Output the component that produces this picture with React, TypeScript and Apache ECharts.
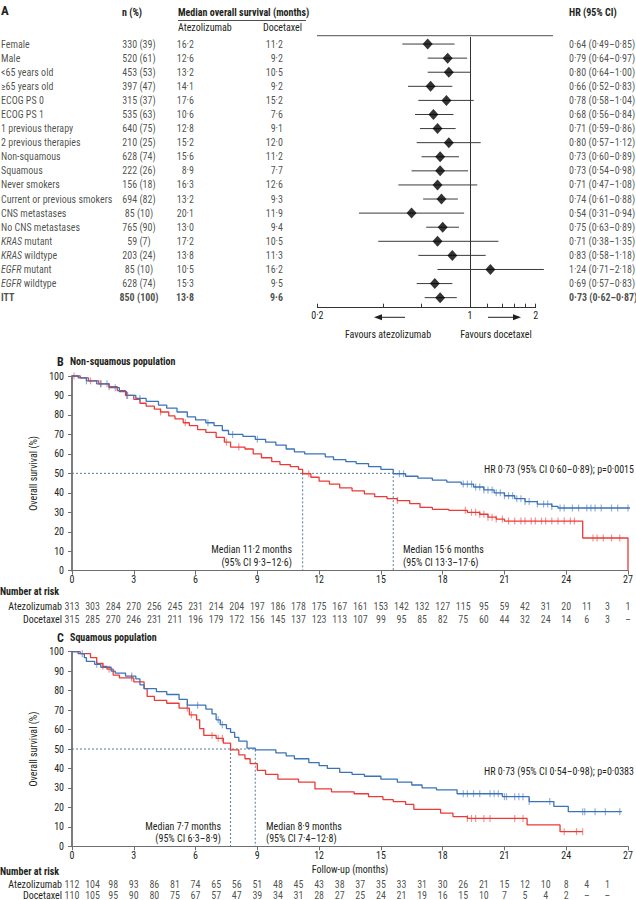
import React, { useEffect, useRef } from 'react';
import * as echarts from 'echarts';

// ---------- Panel A: forest plot data ----------
const subgroups = ['Female', 'Male', '<65 years old', '≥65 years old', 'ECOG PS 0', 'ECOG PS 1', '1 previous therapy', '2 previous therapies', 'Non-squamous', 'Squamous', 'Never smokers', 'Current or previous smokers', 'CNS metastases', 'No CNS metastases', 'KRAS mutant', 'KRAS wildtype', 'EGFR mutant', 'EGFR wildtype', 'ITT'];
const subgroupN = [330, 520, 453, 397, 315, 535, 640, 210, 628, 222, 156, 694, 85, 765, 59, 203, 85, 628, 850];
const subgroupPct = [39, 61, 53, 47, 37, 63, 75, 25, 74, 26, 18, 82, 10, 90, 7, 24, 10, 74, 100];
const atezoMedianOS = [16.2, 12.6, 13.2, 14.1, 17.6, 10.6, 12.8, 15.2, 15.6, 8.9, 16.3, 13.2, 20.1, 13.0, 17.2, 13.8, 10.5, 15.3, 13.8];
const doceMedianOS = [11.2, 9.2, 10.5, 9.2, 15.2, 7.6, 9.1, 12.0, 11.2, 7.7, 12.6, 9.3, 11.9, 9.4, 10.5, 11.3, 16.2, 9.5, 9.6];
const hr = [0.64, 0.79, 0.80, 0.66, 0.78, 0.68, 0.71, 0.80, 0.73, 0.73, 0.71, 0.74, 0.54, 0.75, 0.71, 0.83, 1.24, 0.69, 0.73];
const hrLow = [0.49, 0.64, 0.64, 0.52, 0.58, 0.56, 0.59, 0.57, 0.60, 0.54, 0.47, 0.61, 0.31, 0.63, 0.38, 0.58, 0.71, 0.57, 0.62];
const hrHigh = [0.85, 0.97, 1.00, 0.83, 1.04, 0.84, 0.86, 1.12, 0.89, 0.98, 1.08, 0.88, 0.94, 0.89, 1.35, 1.18, 2.18, 0.83, 0.87];
const forestTicks = [0.2, 0.4, 0.6, 1, 1.2, 1.4, 1.6, 1.8, 2];
const forestTickLabels = [0.2, 1, 2];

// ---------- Panel B: non-squamous KM ----------
const bAtezoSteps = [[0, 100], [0.3, 99], [0.7, 97.5], [1.2, 96], [1.8, 94], [2.3, 92], [2.65, 90], [3.1, 88.5], [3.6, 87], [4.2, 85], [4.6, 83.5], [5.1, 81.5], [5.6, 79], [6.0, 77.5], [6.5, 76], [6.9, 74.5], [7.3, 72], [7.6, 70], [8.3, 69], [8.9, 67.5], [9.4, 66], [9.9, 64.5], [10.4, 62.5], [10.8, 61], [11.3, 60], [12.3, 58.5], [12.7, 57], [13.3, 56], [13.8, 55], [14.4, 53.5], [15.0, 52], [15.6, 49.8], [16.2, 48.5], [16.8, 47.5], [17.5, 46.5], [18.2, 45.5], [18.9, 44.5], [19.5, 43], [20.0, 41.5], [20.5, 40], [21.0, 38.5], [21.5, 37], [22.0, 35.5], [22.6, 34.2], [23.3, 33], [23.6, 32.2], [27.3, 32.2]];
const bDoceSteps = [[0, 100], [0.4, 99], [0.8, 97.5], [1.3, 96], [1.8, 94.5], [2.2, 92.5], [2.6, 90], [3.0, 88], [3.3, 86], [3.6, 84.5], [4.0, 83], [4.3, 81.5], [4.7, 79.5], [5.0, 78], [5.4, 76], [5.7, 74.5], [6.1, 72.5], [6.5, 71], [7.0, 68.5], [7.4, 66], [7.7, 63.5], [8.4, 62.5], [8.8, 60], [9.2, 58], [9.7, 56], [10.1, 54.5], [10.6, 53.5], [11.0, 52], [11.2, 49.8], [11.6, 48], [12.0, 46], [12.5, 44.5], [13.0, 42.5], [13.6, 41], [14.2, 39.5], [14.7, 38], [15.3, 37], [15.8, 36], [16.4, 34.5], [16.9, 32.5], [17.5, 31.5], [18.3, 31], [19.2, 30], [19.8, 29], [20.2, 27.5], [20.6, 26.5], [21.0, 25.5], [24.8, 16.8], [27.0, 0]];
const bAtezoCensor = [0.7, 1.4, 1.7, 2.1, 2.65, 3.3, 6.6, 7.8, 9.0, 15.9, 16.1, 19.0, 19.2, 19.4, 19.6, 19.8, 20.0, 20.2, 20.4, 20.6, 20.8, 21.0, 21.2, 21.4, 21.6, 21.8, 22.0, 22.2, 22.6, 22.9, 23.1, 23.3, 23.7, 23.9, 24.3, 24.6, 25.0, 25.2, 25.4, 25.7, 26.2, 26.5, 27.0, 27.2];
const bDoceCensor = [0.1, 0.9, 1.4, 1.8, 2.7, 4.3, 5.5, 7.5, 8.1, 11.5, 15.8, 19.1, 19.4, 19.6, 19.8, 20.0, 20.2, 20.4, 20.6, 20.9, 21.2, 21.5, 21.8, 22.0, 22.3, 22.5, 22.8, 23.0, 23.3, 23.6, 23.9, 24.2, 24.4, 25.3, 25.5, 25.8, 26.2, 26.6];
const bMedianAtezo = 15.6;
const bMedianAtezoCI = [13.3, 17.6];
const bMedianDoce = 11.2;
const bMedianDoceCI = [9.3, 12.6];
const bHR = [0.73, 0.60, 0.89];
const bP = '0·0015';
const bRiskAtezo = [313, 303, 284, 270, 256, 245, 231, 214, 204, 197, 186, 178, 175, 167, 161, 153, 142, 132, 127, 115, 95, 59, 42, 31, 20, 11, 3, 1];
const bRiskDoce = [315, 285, 270, 246, 231, 211, 196, 179, 172, 156, 145, 137, 123, 113, 107, 99, 95, 85, 82, 75, 60, 44, 32, 24, 14, 6, 3, null];

// ---------- Panel C: squamous KM ----------
const cAtezoSteps = [[0, 100], [0.3, 99], [0.6, 97], [0.7, 95], [1.1, 93.5], [1.4, 92], [1.9, 90], [2.1, 89], [2.6, 87.5], [3.1, 86], [3.3, 83], [3.5, 81], [4.1, 79.5], [4.6, 78], [5.2, 75.5], [5.6, 72.5], [6.5, 70.5], [6.8, 68], [7.0, 65], [7.2, 62.5], [7.5, 60.5], [7.7, 58.5], [7.9, 56], [8.1, 54], [8.5, 50.5], [8.9, 49.5], [9.9, 48], [10.4, 46.5], [10.8, 45], [11.5, 43], [12.0, 41.5], [12.4, 40], [13.0, 38], [13.6, 37], [14.2, 36], [15.0, 34.5], [15.8, 33], [16.5, 31.5], [17.0, 30], [17.7, 29], [18.7, 27], [20.9, 25.5], [22.2, 23], [23.4, 20.5], [24.1, 17.8], [26.7, 17.8]];
const cDoceSteps = [[0, 100], [0.4, 99], [0.9, 97], [1.2, 94], [1.5, 92.5], [1.7, 91], [2.0, 88], [2.3, 86.5], [3.0, 84.5], [3.5, 81], [3.65, 77], [4.0, 75], [4.6, 73.5], [5.2, 71], [5.7, 67.5], [6.05, 65], [6.2, 60.5], [6.4, 57], [7.0, 55.5], [7.35, 53], [7.7, 49.5], [8.1, 47], [8.4, 45], [8.65, 42.5], [9.0, 39], [9.4, 37], [10.0, 34.5], [11.0, 33], [11.8, 29.5], [12.6, 28], [13.7, 27], [14.4, 25.5], [15.1, 24], [15.6, 23], [16.2, 21.5], [16.6, 19], [17.9, 17], [18.5, 15.3], [19.2, 14.3], [22.1, 11], [23.7, 7.5], [24.8, 7.5]];
const cAtezoCensor = [0.5, 1.2, 2.9, 5.6, 6.1, 7.1, 7.3, 19.0, 19.2, 19.5, 19.8, 20.3, 20.5, 20.7, 21.0, 21.1, 21.5, 21.7, 21.9, 22.2, 23.2, 24.8, 24.9, 25.4, 25.9, 26.6];
const cDoceCensor = [1.5, 1.8, 2.9, 5.6, 5.8, 6.8, 7.1, 7.3, 19.2, 19.4, 19.6, 20.0, 20.3, 21.5, 21.9, 23.9, 24.5, 24.8];
const cMedianAtezo = 8.9;
const cMedianAtezoCI = [7.4, 12.8];
const cMedianDoce = 7.7;
const cMedianDoceCI = [6.3, 8.9];
const cHR = [0.73, 0.54, 0.98];
const cP = '0·0383';
const cRiskAtezo = [112, 104, 98, 93, 86, 81, 74, 65, 56, 51, 48, 45, 43, 38, 37, 35, 33, 31, 30, 26, 21, 15, 12, 10, 8, 4, 1];
const cRiskDoce = [110, 105, 95, 90, 80, 75, 67, 57, 47, 39, 34, 31, 28, 27, 25, 24, 21, 19, 16, 15, 10, 7, 5, 4, 2, null, null];
const armNames = ['Atezolizumab', 'Docetaxel'];

// ---------- styling ----------
const FONT = '"Liberation Sans Narrow", "Arial Narrow", "Roboto Condensed", "DejaVu Sans Condensed", sans-serif';
const INK = '#231f20';
const BLUE = '#3b73b9';
const RED = '#ec3b36';
const AXIS = '#6d6e71';
const MEDIAN = '#5b7c93';

const fmt1 = (v: number) => v.toFixed(1).replace('.', '·');
const fmt2 = (v: number) => v.toFixed(2).replace('.', '·');
const L = Math.log10;

function survAt(steps: number[][], t: number) {
  let s = steps[0][1];
  for (const [tt, ss] of steps) {
    if (tt <= t) s = ss; else break;
  }
  return s;
}

function txt(text: string, x: number, y: number, align = 'left', opt: any = {}) {
  return {
    type: 'text', x, y, silent: true,
    style: {
      text, fill: opt.fill || INK, fontFamily: FONT, fontSize: opt.size || 10,
      fontWeight: opt.weight || 'normal', align, verticalAlign: 'middle',
    },
  };
}
function hline(x1: number, y1: number, x2: number, y2: number, w = 0.8) {
  return { type: 'line', silent: true, shape: { x1, y1, x2, y2 }, style: { stroke: INK, lineWidth: w } };
}
function poly(points: number[][]) {
  return { type: 'polygon', silent: true, shape: { points }, style: { fill: INK } };
}

function kmXAxis(gridIndex: number, name?: string) {
  return {
    gridIndex, type: 'value', min: 0, max: 27, interval: 3,
    name: name || '', nameLocation: 'middle', nameGap: 18,
    nameTextStyle: { fontFamily: FONT, fontSize: 10, color: INK },
    axisLine: { show: true, lineStyle: { color: AXIS, width: 1 } },
    axisTick: { show: true, length: 4, lineStyle: { color: AXIS } },
    axisLabel: { margin: 4, fontFamily: FONT, fontSize: 10, color: INK },
    splitLine: { show: false },
  };
}
function kmYAxis(gridIndex: number) {
  return {
    gridIndex, type: 'value', min: 0, max: 100, interval: 10,
    name: 'Overall survival (%)', nameLocation: 'middle', nameGap: 29,
    nameTextStyle: { fontFamily: FONT, fontSize: 10, color: INK },
    axisLine: { show: true, lineStyle: { color: AXIS, width: 1.8 } },
    axisTick: { show: true, length: 4, lineStyle: { color: AXIS } },
    axisLabel: { margin: 8, fontFamily: FONT, fontSize: 10, color: INK },
    splitLine: { show: false },
  };
}
function riskYAxis(gridIndex: number) {
  return {
    gridIndex, type: 'category', data: armNames, inverse: true,
    axisLine: { show: false }, axisTick: { show: false },
    axisLabel: { interval: 0, margin: 10, fontFamily: FONT, fontSize: 10, color: INK },
  };
}

function kmSeries(ax: number, steps: number[][], censor: number[], color: string) {
  return [
    {
      type: 'line', xAxisIndex: ax, yAxisIndex: ax, data: steps, step: 'end', symbol: 'none',
      lineStyle: { color, width: 1.3 }, clip: false, silent: true, z: 3,
    },
    {
      type: 'scatter', xAxisIndex: ax, yAxisIndex: ax, symbol: 'rect', symbolSize: [1.2, 7],
      data: censor.map((t) => [t, survAt(steps, t)]),
      itemStyle: { color, opacity: 0.55 }, silent: true, z: 4,
    },
  ];
}
function medianSeries(ax: number, mA: number, mD: number) {
  const hi = Math.max(mA, mD);
  const lo = Math.min(mA, mD);
  const ls = { color: MEDIAN, width: 1, type: [2, 2] };
  return [
    { type: 'line', xAxisIndex: ax, yAxisIndex: ax, data: [[0, 50], [hi, 50], [hi, 0]], symbol: 'none', lineStyle: ls, silent: true, z: 2 },
    { type: 'line', xAxisIndex: ax, yAxisIndex: ax, data: [[lo, 50], [lo, 0]], symbol: 'none', lineStyle: ls, silent: true, z: 2 },
  ];
}
function riskSeries(ax: number, atezo: (number | null)[], doce: (number | null)[]) {
  const mk = (arr: (number | null)[], row: number) => ({
    type: 'scatter', xAxisIndex: ax, yAxisIndex: ax, symbolSize: 0, silent: true,
    data: arr.map((_, i) => [i, row]),
    label: {
      show: true, position: 'inside', fontFamily: FONT, fontSize: 10, color: INK,
      formatter: (p: any) => (arr[p.dataIndex] === null ? '–' : String(arr[p.dataIndex])),
    },
  });
  return [mk(atezo, 0), mk(doce, 1)];
}

function subgroupLabel(i: number) {
  const s = subgroups[i];
  const m = s.match(/^(KRAS|EGFR) (.*)$/);
  if (m) return `{i|${m[1]}} ${m[2]}`;
  return s;
}

function buildOption() {
  const rich = {
    i: { fontStyle: 'italic', fontFamily: FONT, fontSize: 10, color: INK },
    b: { fontWeight: 'bold', fontFamily: FONT, fontSize: 10, color: INK },
  };
  const last = subgroups.length - 1;
  const tableCols = [
    { x: 1, pos: 'right', text: (i: number) => subgroupLabel(i) },
    { x: 139, pos: 'inside', text: (i: number) => `${subgroupN[i]} (${subgroupPct[i]})` },
    { x: 194, pos: 'left', text: (i: number) => fmt1(atezoMedianOS[i]) },
    { x: 283, pos: 'left', text: (i: number) => fmt1(doceMedianOS[i]) },
    { x: 569, pos: 'right', text: (i: number) => `${fmt2(hr[i])} (${fmt2(hrLow[i])}–${fmt2(hrHigh[i])})` },
  ];
  const tableSeries = tableCols.map((c) => ({
    type: 'scatter', xAxisIndex: 1, yAxisIndex: 1, symbolSize: 0, silent: true,
    data: subgroups.map((_, i) => [c.x, i]),
    label: {
      show: true, position: c.pos, distance: 0, fontFamily: FONT, fontSize: 10, color: INK, rich,
      formatter: (p: any) => {
        const t = c.text(p.dataIndex);
        return p.dataIndex === last ? `{b|${t}}` : t;
      },
    },
  }));

  const graphic = [
    txt('A', 1, 10, 'left', { size: 13, weight: 'bold' }),
    txt('n (%)', 122, 12.7, 'left', { weight: 'bold' }),
    txt('Median overall survival (months)', 178, 12.7, 'left', { weight: 'bold' }),
    hline(178, 20.5, 306, 20.5),
    txt('Atezolizumab', 178, 27.3),
    txt('Docetaxel', 302, 27.3, 'right'),
    txt('HR (95% CI)', 569, 12.7, 'left', { weight: 'bold' }),
    hline(317, 35.7, 553, 35.7),
    hline(377, 317.3, 405, 317.3, 1),
    poly([[374, 317.3], [382, 314.3], [382, 320.3]]),
    txt('Favours atezolizumab', 388, 334, 'center'),
    hline(488, 317.3, 514, 317.3, 1),
    poly([[521, 317.3], [513, 314.3], [513, 320.3]]),
    txt('Favours docetaxel', 496, 334, 'center'),

    txt('B', 57, 361.5, 'left', { size: 12, weight: 'bold' }),
    txt('Non-squamous population', 70, 361.5, 'left', { weight: 'bold' }),
    txt(`Median ${fmt1(bMedianDoce)} months`, 292, 549.5, 'right'),
    txt(`(95% CI ${fmt1(bMedianDoceCI[0])}–${fmt1(bMedianDoceCI[1])})`, 292, 562, 'right'),
    txt(`Median ${fmt1(bMedianAtezo)} months`, 403, 549.5),
    txt(`(95% CI ${fmt1(bMedianAtezoCI[0])}–${fmt1(bMedianAtezoCI[1])})`, 403, 562),
    txt(`HR ${fmt2(bHR[0])} (95% CI ${fmt2(bHR[1])}–${fmt2(bHR[2])}); p=${bP}`, 634, 469, 'right'),
    txt('Number at risk', 0, 591, 'left', { weight: 'bold' }),

    txt('C', 57, 637.5, 'left', { size: 12, weight: 'bold' }),
    txt('Squamous population', 70, 637.5, 'left', { weight: 'bold' }),
    txt(`Median ${fmt1(cMedianDoce)} months`, 221, 826, 'right'),
    txt(`(95% CI ${fmt1(cMedianDoceCI[0])}–${fmt1(cMedianDoceCI[1])})`, 221, 838, 'right'),
    txt(`Median ${fmt1(cMedianAtezo)} months`, 266, 826),
    txt(`(95% CI ${fmt1(cMedianAtezoCI[0])}–${fmt1(cMedianAtezoCI[1])})`, 266, 838),
    txt(`HR ${fmt2(cHR[0])} (95% CI ${fmt2(cHR[1])}–${fmt2(cHR[2])}); p=${cP}`, 634, 771.5, 'right'),
    txt('Number at risk', 0, 871.5, 'left', { weight: 'bold' }),
  ];

  return {
    animation: false,
    backgroundColor: '#ffffff',
    textStyle: { fontFamily: FONT, fontSize: 10, color: INK },
    grid: [
      { left: 317.4, width: 218.3, top: 37, height: 267.7, outerBoundsMode: 'none' },
      { left: 0, width: 636, top: 37, height: 267.7, outerBoundsMode: 'none' },
      { left: 72, width: 556, top: 376, height: 194.7, outerBoundsMode: 'none' },
      { left: 72, width: 556, top: 600.5, height: 25, outerBoundsMode: 'none' },
      { left: 72, width: 556, top: 651.7, height: 194.6, outerBoundsMode: 'none' },
      { left: 72, width: 556, top: 878.5, height: 22, outerBoundsMode: 'none' },
    ],
    xAxis: [
      {
        gridIndex: 0, type: 'value', min: L(0.2), max: L(2), offset: 3,
        axisLine: { show: true, lineStyle: { color: '#333', width: 1 } },
        axisTick: { show: true, inside: true, length: 4, customValues: forestTicks.map(L), lineStyle: { color: '#333' } },
        axisLabel: {
          customValues: forestTickLabels.map(L), margin: 3, fontFamily: FONT, fontSize: 10, color: INK,
          formatter: (v: number) => {
            const m = forestTickLabels.find((t) => Math.abs(L(t) - v) < 1e-6);
            return m === undefined ? '' : String(m).replace('.', '·');
          },
        },
        splitLine: { show: false },
      },
      { gridIndex: 1, type: 'value', min: 0, max: 636, show: false },
      kmXAxis(2),
      { gridIndex: 3, type: 'value', min: 0, max: 27, show: false },
      kmXAxis(4, 'Follow-up (months)'),
      { gridIndex: 5, type: 'value', min: 0, max: 27, show: false },
    ],
    yAxis: [
      { gridIndex: 0, type: 'category', data: subgroups, inverse: true, show: false },
      { gridIndex: 1, type: 'category', data: subgroups, inverse: true, show: false },
      kmYAxis(2),
      riskYAxis(3),
      kmYAxis(4),
      riskYAxis(5),
    ],
    graphic,
    series: [
      {
        type: 'custom', xAxisIndex: 0, yAxisIndex: 0, clip: false, silent: true,
        data: subgroups.map((_, i) => [L(hrLow[i]), L(hrHigh[i]), i]),
        encode: { x: [0, 1], y: 2 },
        renderItem: (params: any, api: any) => {
          const p1 = api.coord([api.value(0), api.value(2)]);
          const p2 = api.coord([api.value(1), api.value(2)]);
          return { type: 'line', shape: { x1: p1[0], y1: p1[1], x2: p2[0], y2: p2[1] }, style: { stroke: '#3a3a3a', lineWidth: 1 } };
        },
        z: 2,
      },
      {
        type: 'scatter', xAxisIndex: 0, yAxisIndex: 0, symbol: 'diamond', symbolSize: [10, 11], silent: true,
        data: subgroups.map((_, i) => [L(hr[i]), i]),
        itemStyle: { color: '#000' }, z: 3,
        markLine: {
          silent: true, symbol: 'none', label: { show: false },
          lineStyle: { color: '#333', width: 1, type: 'solid' },
          data: [{ xAxis: 0 }],
        },
      },
      ...tableSeries,
      ...medianSeries(2, bMedianAtezo, bMedianDoce),
      ...kmSeries(2, bDoceSteps, bDoceCensor, RED),
      ...kmSeries(2, bAtezoSteps, bAtezoCensor, BLUE),
      ...riskSeries(3, bRiskAtezo, bRiskDoce),
      ...medianSeries(4, cMedianAtezo, cMedianDoce),
      ...kmSeries(4, cDoceSteps, cDoceCensor, RED),
      ...kmSeries(4, cAtezoSteps, cAtezoCensor, BLUE),
      ...riskSeries(5, cRiskAtezo, cRiskDoce),
    ],
  };
}

export default function App() {
  const ref = useRef<HTMLDivElement>(null);
  useEffect(() => {
    const chart = echarts.init(ref.current as HTMLDivElement, null, { renderer: 'svg' });
    chart.setOption(buildOption() as any);
    return () => chart.dispose();
  }, []);
  return <div ref={ref} style={{ position: 'absolute', left: 0, top: 0, width: 636, height: 900 }} />;
}
